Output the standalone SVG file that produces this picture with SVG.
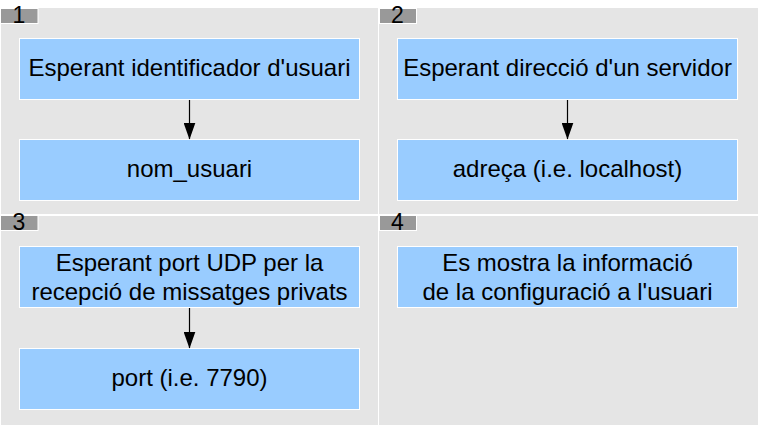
<svg xmlns="http://www.w3.org/2000/svg" width="758" height="425" viewBox="0 0 758 425">
<defs>
<style>
.panel{fill:#e5e5e5;stroke:none}
.tab{fill:#999999;stroke:#ffffff;stroke-width:1}
.num{font-family:"Liberation Sans",Arial,sans-serif;font-size:23px;fill:#000;text-anchor:middle}
.box{fill:#99ccff;stroke:#ffffff;stroke-width:1}
.lbl{font-family:"Liberation Sans",Arial,sans-serif;font-size:24px;fill:#000;text-anchor:middle}
.edge{stroke:#000;stroke-width:1.2;fill:none;marker-end:url(#ah)}
</style>
<marker id="ah" markerWidth="17" markerHeight="12" refX="16.5" refY="6" orient="auto" markerUnits="userSpaceOnUse" viewBox="0 0 17 12">
<path d="M0,0 L17,6 L0,12 Z" fill="#000"/>
</marker>
</defs>
<rect width="758" height="425" fill="#ffffff"/>
<g id="panel1">
<rect class="panel" x="1" y="8" width="377" height="206"/>
<rect class="tab" x="0.5" y="8.5" width="37.5" height="15"/>
<text class="num" x="19" y="23">1</text>
</g>
<g id="panel2">
<rect class="panel" x="379" y="8" width="379" height="206"/>
<rect class="tab" x="379.5" y="8.5" width="37" height="15"/>
<text class="num" x="397.5" y="23">2</text>
</g>
<g id="panel3">
<rect class="panel" x="1" y="216" width="377" height="209"/>
<rect class="tab" x="0.5" y="215.5" width="37.5" height="15"/>
<text class="num" x="19" y="230">3</text>
</g>
<g id="panel4">
<rect class="panel" x="379" y="216" width="379" height="209"/>
<rect class="tab" x="379.5" y="215.5" width="37" height="15"/>
<text class="num" x="397.5" y="230">4</text>
</g>
<g id="n1a">
<rect class="box" x="19.5" y="38.5" width="340" height="61"/>
<text class="lbl" x="189.5" y="76">Esperant identificador d'usuari</text>
</g>
<g id="n1b">
<rect class="box" x="19.5" y="139.5" width="340" height="61"/>
<text class="lbl" x="189.5" y="177">nom_usuari</text>
</g>
<g id="n2a">
<rect class="box" x="397.5" y="38.5" width="340" height="61"/>
<text class="lbl" x="567.5" y="76">Esperant direcció d'un servidor</text>
</g>
<g id="n2b">
<rect class="box" x="397.5" y="139.5" width="340" height="61"/>
<text class="lbl" x="567.5" y="177">adreça (i.e. localhost)</text>
</g>
<g id="n3a">
<rect class="box" x="19.5" y="246.5" width="340" height="61"/>
<text class="lbl" x="189.5" y="271">Esperant port UDP per la</text>
<text class="lbl" x="189.5" y="299.5">recepció de missatges privats</text>
</g>
<g id="n3b">
<rect class="box" x="19.5" y="348.5" width="340" height="61"/>
<text class="lbl" x="189.5" y="386">port (i.e. 7790)</text>
</g>
<g id="n4">
<rect class="box" x="397.5" y="246.5" width="340" height="61"/>
<text class="lbl" x="567.5" y="271">Es mostra la informació</text>
<text class="lbl" x="567.5" y="299.5">de la configuració a l'usuari</text>
</g>
<g id="connectors">
<line class="edge" x1="189.5" y1="100" x2="189.5" y2="139"/>
<line class="edge" x1="567.5" y1="100" x2="567.5" y2="139"/>
<line class="edge" x1="189.5" y1="308" x2="189.5" y2="348"/>
</g>
</svg>
